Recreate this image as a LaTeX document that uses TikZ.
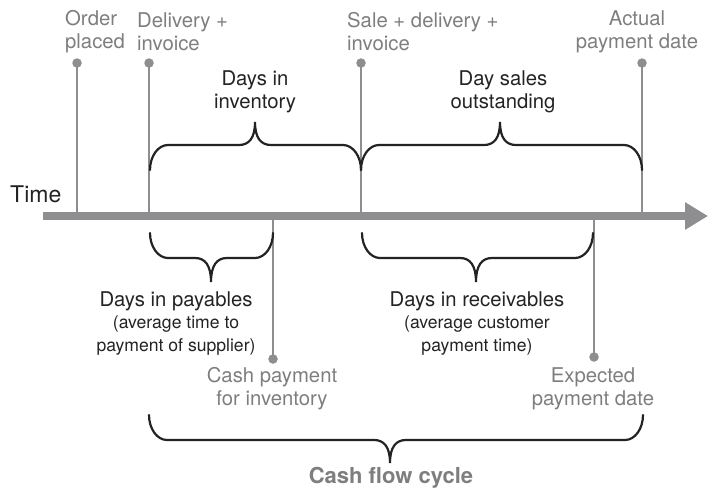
\documentclass[tikz,border=0pt]{standalone}
\usepackage{fontspec}
\setmainfont{TeX Gyre Heros}
\usetikzlibrary{arrows.meta}
\definecolor{lgray}{HTML}{8E8E90}
\definecolor{tgray}{HTML}{7E7E80}
\definecolor{ink}{HTML}{232323}
\tikzset{
  vline/.style={lgray, line width=2.4pt},
  dotnode/.style={circle, fill=lgray, minimum size=9.5pt, inner sep=0pt},
  bracestyle/.style={ink, line width=2.2pt, line cap=round},
  graylabel/.style={tgray, inner sep=0pt, font=\fontsize{20.3}{23}\selectfont},
  blacklabel/.style={ink, inner sep=0pt, font=\fontsize{20.3}{23}\selectfont, align=center},
  sublabel/.style={ink, inner sep=0pt, font=\fontsize{17.6}{23}\selectfont, align=center},
}
% curly brace: x1 x2 xm yend yflat ytip
\newcommand\curlyb[6]{%
  \draw[bracestyle] (#1,#4)
    .. controls (#1,{#5+0.45*(#4-#5)}) and ({#1+8},#5) .. ({#1+18},#5)
    -- ({#3-16},#5)
    .. controls ({#3-6},#5) and (#3,{#5+0.3*(#6-#5)}) .. (#3,#6)
    .. controls (#3,{#5+0.3*(#6-#5)}) and ({#3+6},#5) .. ({#3+16},#5)
    -- ({#2-18},#5)
    .. controls ({#2-8},#5) and (#2,{#5+0.45*(#4-#5)}) .. (#2,#4);}
\begin{document}
\begin{tikzpicture}[x=1pt, y=-1pt]
\useasboundingbox (0,0) rectangle (715,490);

% timeline coordinates
\coordinate (tstart) at (43,216);
\coordinate (tend) at (708,216);
\coordinate (t1) at (77,216);
\coordinate (t2) at (149,216);
\coordinate (t3) at (361,216);
\coordinate (t4) at (642,216);
\coordinate (t5) at (273,216);
\coordinate (t6) at (594,216);

% dots
\node[dotnode] (d1) at (77,63) {};
\node[dotnode] (d2) at (149,63) {};
\node[dotnode] (d3) at (361,63) {};
\node[dotnode] (d4) at (642,63) {};
\node[dotnode] (d5) at (273,359) {};
\node[dotnode] (d6) at (594,357) {};

% vertical connectors
\draw[vline] (d1.center) -- (t1);
\draw[vline] (d2.center) -- (t2);
\draw[vline] (d3.center) -- (t3);
\draw[vline] (d4.center) -- (t4);
\draw[vline] (t5) -- (d5.center);
\draw[vline] (t6) -- (d6.center);

% timeline
\draw[lgray, line width=7.5pt, -{Triangle[length=23pt,width=26pt]}] (tstart) -- (tend);

% labels on top
\node[graylabel, anchor=west, align=left] (lorder) at (65,31.5) {Order\\placed};
\node[graylabel, anchor=west, align=left] (ldeliv) at (137,31.5) {Delivery +\\invoice};
\node[graylabel, anchor=west, align=left] (lsale) at (347,31.5) {Sale + delivery +\\invoice};
\node[graylabel, anchor=center, align=center] (lactual) at (637,31.5) {Actual\\payment date};

\node[ink, inner sep=0pt, font=\fontsize{23}{24}\selectfont, anchor=base west] (ltime) at (10,202) {Time};

\node[blacklabel] (linv) at (255,91.5) {Days in\\inventory};
\node[blacklabel] (ldso) at (503,91.5) {Day sales\\outstanding};

\node[blacklabel] (lpay) at (176,301) {Days in payables};
\node[sublabel] (lpaysub) at (176,335.5) {(average time to\\payment of supplier)};
\node[blacklabel] (lrec) at (477,301) {Days in receivables};
\node[sublabel] (lrecsub) at (477,335.5) {(average customer\\payment time)};

\node[graylabel, align=center] (lcash) at (272,388.5) {Cash payment\\for inventory};
\node[graylabel, align=center] (lexp) at (593,388.5) {Expected\\payment date};

\node[tgray, inner sep=0pt, font=\fontsize{22}{24}\selectfont\bfseries] (lcycle) at (391,478) {Cash flow cycle};

% braces
\curlyb{150}{361}{255}{170}{145}{122}
\curlyb{361}{642}{500}{170}{145}{122}
\curlyb{150}{273}{211}{233}{258}{282}
\curlyb{362}{593}{476}{233}{258}{282}
\curlyb{149}{643}{390}{415}{440}{463}
\end{tikzpicture}
\end{document}
